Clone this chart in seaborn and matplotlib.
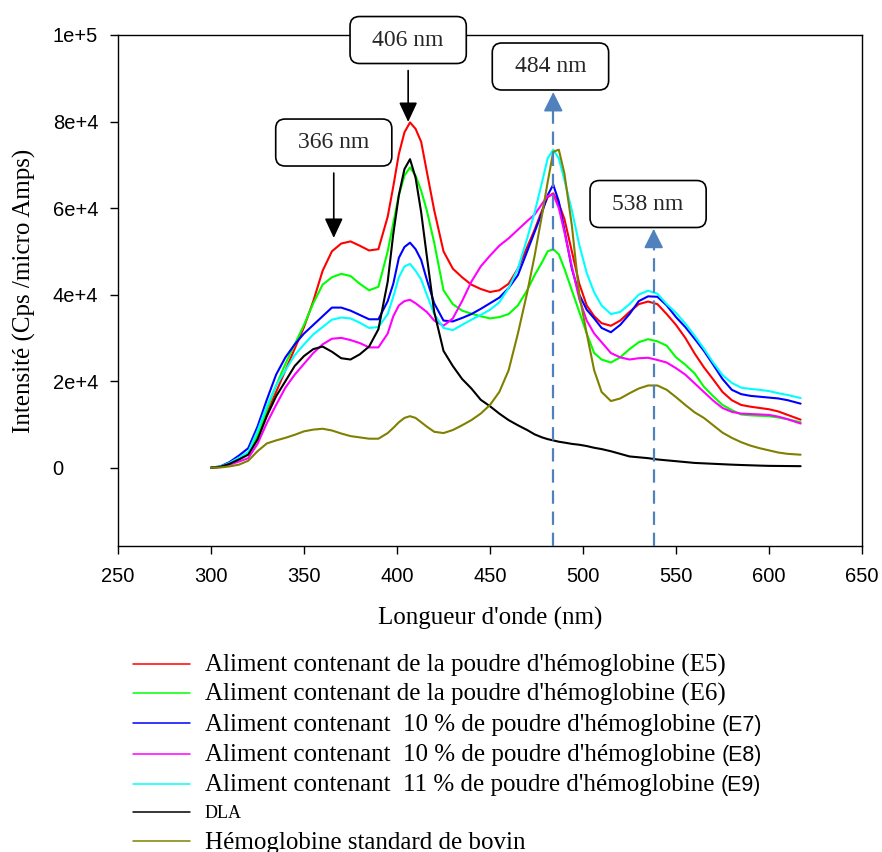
import matplotlib
matplotlib.use("Agg")
import matplotlib.pyplot as plt
import numpy as np
import pandas as pd
import seaborn as sns
from matplotlib.lines import Line2D
from matplotlib.patches import BoxStyle

# ---- spectra (wavelength in nm, intensity in Cps / micro Amps) ----
wavelength = [300, 305, 310, 315, 320, 325, 330, 335, 340, 345, 350, 355, 360, 365, 370,
              375, 380, 385, 390, 395, 398, 401, 404, 407, 410, 413, 416, 420, 425, 430,
              435, 440, 445, 450, 455, 460, 465, 470, 474, 478, 481, 484, 487, 490, 494,
              498, 502, 506, 510, 515, 520, 525, 530, 535, 540, 545, 550, 555, 560, 565,
              570, 575, 580, 585, 590, 595, 600, 605, 610, 617]

e5 = [0, 200, 900, 1900, 3300, 7000, 12500, 17500, 22500, 27500, 32500, 38500, 45500, 50000, 51800,
      52300, 51300, 50200, 50500, 58000, 65000, 72500, 77500, 79800, 78300, 75300, 68500, 59500, 50000, 46000,
      44000, 42300, 41300, 40600, 41000, 42500, 46000, 51000, 55000, 59500, 62500, 63400, 61000, 57500, 50000,
      42500, 37500, 35000, 33400, 32800, 34000, 36000, 37800, 38400, 37800, 35500, 33000, 30000, 26400, 23200,
      20400, 17500, 15600, 14500, 14100, 13800, 13500, 13000, 12200, 11100]

e6 = [0, 200, 1000, 2000, 3300, 7500, 13500, 19000, 24000, 28500, 33000, 38000, 42300, 44000, 44800,
      44300, 42500, 41000, 41800, 50000, 56500, 63000, 67500, 69400, 67500, 64000, 59500, 52000, 41000, 37800,
      36300, 35600, 35000, 34500, 34800, 35500, 37500, 41000, 44500, 47500, 50000, 50500, 49300, 46000, 41000,
      36000, 31000, 26500, 25000, 24300, 25500, 27400, 29000, 29700, 29200, 28200, 25500, 23800, 21800, 18700,
      16500, 14500, 13300, 12300, 12100, 12000, 11900, 11600, 11200, 10500]

e7 = [0, 300, 1300, 2800, 4500, 9500, 15700, 21500, 25500, 28500, 31000, 33000, 35000, 37000, 37000,
      36300, 35300, 34300, 34300, 38500, 42500, 48500, 51000, 52000, 50500, 48000, 43500, 38000, 34000, 33800,
      34600, 35500, 36700, 38000, 39300, 41500, 44500, 50000, 54500, 59000, 63000, 65400, 61500, 55000, 46000,
      40000, 36500, 34500, 32300, 31300, 33000, 35500, 38500, 39600, 39500, 37500, 34800, 32500, 29800, 27000,
      23800, 20500, 18000, 17000, 16600, 16400, 16200, 16000, 15600, 14800]

e8 = [0, 150, 700, 1400, 2200, 5500, 10300, 14500, 18500, 21500, 24000, 26500, 28500, 29800, 30000,
      29500, 28800, 27800, 27800, 31000, 35000, 37500, 38500, 38800, 38000, 37000, 36000, 34000, 32800, 34500,
      38500, 43000, 46500, 49000, 51300, 53000, 55000, 57000, 58500, 61000, 62800, 63200, 60000, 54500, 46500,
      39000, 34000, 31000, 29000, 26500, 25500, 25000, 25300, 25400, 24900, 24300, 23000, 21500, 19500, 17500,
      15500, 13800, 12900, 12500, 12400, 12300, 12200, 11800, 11200, 10200]

e9 = [0, 250, 1100, 2300, 3600, 8500, 14200, 19000, 22500, 26000, 28500, 30800, 32500, 34200, 34700,
      34500, 33500, 32300, 32500, 35500, 39500, 44000, 46500, 47100, 45500, 43500, 40000, 35500, 32300, 31800,
      33000, 34200, 35300, 36500, 38200, 41500, 46000, 53000, 59000, 66000, 71500, 73500, 71500, 66500, 59500,
      51500, 45000, 40500, 37500, 35500, 36000, 37800, 40000, 40900, 40200, 37800, 35800, 33300, 30500, 27500,
      24300, 21400, 19600, 18500, 18200, 18000, 17700, 17200, 16800, 16100]

dla = [0, 200, 900, 1900, 3000, 6500, 11900, 16500, 20000, 23500, 25800, 27400, 28000, 26800, 25300,
       25000, 26200, 28000, 32000, 43000, 54000, 63000, 69000, 71300, 67000, 59000, 49000, 36000, 27000, 23500,
       20500, 18300, 15700, 14200, 12500, 11000, 9800, 8700, 7700, 7000, 6600, 6300, 6000, 5800, 5500,
       5300, 5000, 4600, 4300, 3800, 3200, 2600, 2400, 2200, 1900, 1700, 1500, 1300, 1100, 1000,
       900, 800, 700, 620, 550, 480, 420, 400, 380, 350]

bovine_hb = [0, 50, 300, 700, 1600, 3800, 5600, 6300, 6900, 7600, 8400, 8800, 9000, 8600, 7900,
             7300, 7000, 6700, 6700, 8000, 9200, 10500, 11500, 11900, 11500, 10500, 9500, 8300, 8000, 8700,
             9800, 11000, 12500, 14500, 17500, 22500, 31000, 40500, 49000, 58500, 66000, 73000, 73500, 68000, 56000,
             40000, 31000, 22500, 17500, 15400, 16000, 17200, 18300, 19000, 19000, 18000, 16300, 14500, 12800, 11500,
             9800, 8100, 6900, 5900, 5100, 4500, 4000, 3500, 3200, 3000]

# legend wording: main (serif) part and the sample tag set in sans-serif
legend_main = [
    "Aliment contenant de la poudre d'hémoglobine (E5)",
    "Aliment contenant de la poudre d'hémoglobine (E6)",
    "Aliment contenant  10 % de poudre d'hémoglobine",
    "Aliment contenant  10 % de poudre d'hémoglobine",
    "Aliment contenant  11 % de poudre d'hémoglobine",
    "DLA",
    "Hémoglobine standard de bovin",
]
legend_tag = ["", "", "(E7)", "(E8)", "(E9)", "", ""]
series_keys = ["E5", "E6", "E7", "E8", "E9", "DLA", "Hb bovine"]
series_values = [e5, e6, e7, e8, e9, dla, bovine_hb]
series_colors = ["#ff0000", "#00ff00", "#0000ff", "#ff00ff", "#00ffff", "#000000", "#808000"]

x_ticks = [250, 300, 350, 400, 450, 500, 550, 600, 650]
y_ticks = [0, 20000, 40000, 60000, 80000, 100000]
y_tick_labels = ["0", "2e+4", "4e+4", "6e+4", "8e+4", "1e+5"]

# peak markers: (wavelength, arrow tip, box centre)
black_peaks = [(366, 53100, 75150), (406, 79900, 98840)]
blue_peaks = [(484, 86800, 92720), (538, 55200, 60940)]

# ---- long-form table for seaborn ----
frames = []
for key, vals in zip(series_keys, series_values):
    frames.append(pd.DataFrame({"wl": wavelength, "val": vals, "serie": key}))
df = pd.concat(frames, ignore_index=True)

sns.set_theme(style="white")
plt.rcParams.update({
    "font.family": ["Liberation Serif", "DejaVu Serif"],
    "axes.edgecolor": "black",
    "axes.linewidth": 1.0,
})

W, H = 882, 852
fig = plt.figure(figsize=(W / 100, H / 100), dpi=100)
ax = fig.add_axes([118 / W, 1 - 546 / H, 744 / W, 511 / H])

palette = dict(zip(series_keys, series_colors))
sns.lineplot(data=df, x="wl", y="val", hue="serie", hue_order=series_keys,
             palette=palette, linewidth=1.5, estimator=None, sort=False,
             legend=False, ax=ax)

ax.set_xlim(250, 650)
ax.set_ylim(-18100, 100000)
ax.set_xticks(x_ticks)
ax.set_xticklabels([str(t) for t in x_ticks])
ax.set_yticks(y_ticks)
ax.set_yticklabels(y_tick_labels)
for spine in ax.spines.values():
    spine.set_visible(True)
    spine.set_color("black")
    spine.set_linewidth(1.0)

ax.tick_params(axis="both", which="major", direction="out", length=6, width=1.0,
               color="black", bottom=True, left=True, top=False, right=False)
ax.tick_params(axis="x", pad=9)
ax.tick_params(axis="y", pad=41)
for lbl in ax.get_xticklabels() + ax.get_yticklabels():
    lbl.set_fontfamily("Liberation Sans")
    lbl.set_fontsize(14.5)
    lbl.set_color("black")
for lbl in ax.get_yticklabels():
    lbl.set_horizontalalignment("left")

ax.set_xlabel("Longueur d'onde (nm)", fontsize=18, labelpad=15, color="black")
ax.set_ylabel("Intensité (Cps /micro Amps)", fontsize=18, labelpad=12, color="black")
ax.grid(False)


def label_box(x0, y0, width, height, mutation_size):
    padx = 0.95 * mutation_size
    pady = 0.55 * mutation_size
    return BoxStyle.Round(pad=0, rounding_size=0.4)(
        x0 - padx, y0 - pady, width + 2 * padx, height + 2 * pady, mutation_size)


box_props = dict(boxstyle=label_box, fc="white", ec="black", lw=1.2)

for wl, tip, box_y in black_peaks:
    ax.annotate("", xy=(wl, tip), xytext=(wl, box_y), xycoords="data",
                arrowprops=dict(arrowstyle="-|>,head_length=0.6,head_width=0.28",
                                mutation_scale=20, color="black", lw=1.2,
                                shrinkA=22, shrinkB=0),
                annotation_clip=False, zorder=6)
    ax.text(wl, box_y, f"{wl} nm", ha="center", va="center", fontsize=17,
            bbox=box_props, zorder=7, clip_on=False)

steel = "#4f81bd"
for wl, tip, box_y in blue_peaks:
    head = 3300
    ax.vlines(wl, -18100, tip - head, colors=steel, linewidth=1.6,
              linestyles=(0, (6, 3.5)), zorder=5)
    ax.annotate("", xy=(wl, tip), xytext=(wl, tip - head - 500),
                arrowprops=dict(arrowstyle="-|>,head_length=0.6,head_width=0.3",
                                mutation_scale=20, color=steel, lw=1.2,
                                shrinkA=0, shrinkB=0),
                annotation_clip=False, zorder=6)
    ax.text(wl - 1.5 if wl == 484 else wl - 3, box_y, f"{wl} nm", ha="center", va="center",
            fontsize=17, bbox=box_props, zorder=7, clip_on=False)

# ---- legend below the axes, one row per series ----
row_px = [664, 693, 723, 754, 784, 812, 841]
for i, (main, tag, color) in enumerate(zip(legend_main, legend_tag, series_colors)):
    yf = 1 - row_px[i] / H
    fig.add_artist(Line2D([133 / W, 190 / W], [yf, yf], transform=fig.transFigure,
                          color=color, lw=1.1))
    small = main == "DLA"
    base = 1 - (row_px[i] + (6.5 if small else 7.5)) / H
    t = fig.text(205 / W, base, main, ha="left", va="baseline",
                 fontsize=13 if small else 18, color="black")
    if tag:
        ax.annotate(tag, xy=(1.0, base), xycoords=(t, fig.transFigure),
                    xytext=(4.5, 0), textcoords="offset points", ha="left",
                    va="baseline", fontsize=15.5, family="Liberation Sans",
                    color="black", annotation_clip=False)

fig.savefig("out.png", dpi=100)
